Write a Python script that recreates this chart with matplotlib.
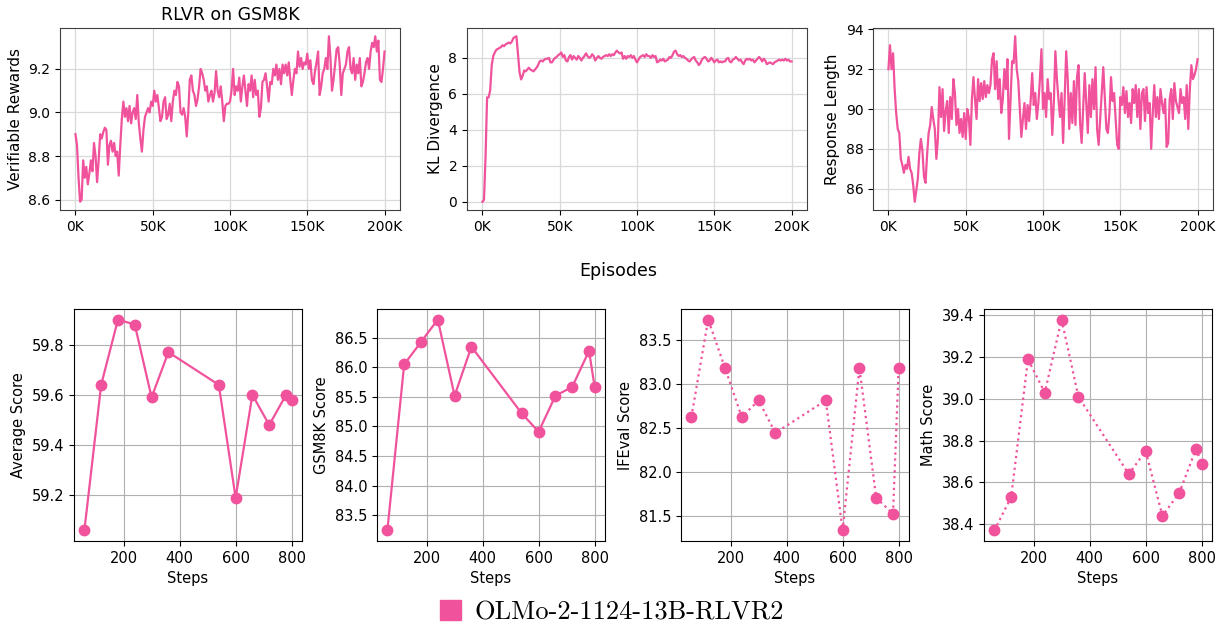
import matplotlib
matplotlib.use("Agg")
import matplotlib.pyplot as plt
from matplotlib.patches import Patch
from matplotlib.ticker import FuncFormatter, MultipleLocator
import numpy as np

# Colour of the single model
PINK = "#F0529C"
MODEL = "OLMo-2-1124-13B-RLVR2"

# Top row: training curves, one value per 1K episodes (0K .. 200K)
episodes = np.arange(0, 201) * 1000

rewards = [
    8.90, 8.85, 8.70, 8.59, 8.60, 8.78, 8.70, 8.75, 8.67, 8.72,
    8.78, 8.73, 8.86, 8.80, 8.68, 8.78, 8.90, 8.88, 8.91, 8.93,
    8.92, 8.76, 8.85, 8.87, 8.82, 8.86, 8.80, 8.82, 8.71, 8.85,
    8.97, 9.05, 8.98, 9.02, 8.96, 9.03, 8.95, 9.00, 9.02, 8.97,
    9.08, 8.95, 8.88, 8.82, 8.92, 8.98, 9.00, 9.02, 9.00, 9.05,
    9.03, 9.10, 9.05, 9.08, 9.02, 8.96, 8.98, 9.05, 9.07, 8.97,
    8.99, 9.04, 8.96, 9.05, 9.10, 9.08, 9.14, 9.12, 9.00, 8.99,
    9.02, 8.98, 8.89, 9.00, 9.15, 9.17, 9.10, 9.08, 9.03, 9.06,
    9.12, 9.20, 9.18, 9.15, 9.10, 9.12, 9.05, 9.08, 9.10, 9.05,
    9.09, 9.19, 9.10, 9.07, 9.12, 9.05, 8.96, 9.03, 9.04, 9.04,
    9.05, 9.10, 9.20, 9.08, 9.12, 9.10, 9.16, 9.05, 9.12, 9.17,
    9.10, 9.03, 9.13, 9.10, 9.17, 9.07, 9.15, 9.08, 9.10, 8.98,
    9.02, 9.14, 9.15, 9.18, 9.12, 9.05, 9.14, 9.13, 9.20, 9.17,
    9.22, 9.15, 9.20, 9.13, 9.22, 9.18, 9.22, 9.17, 9.23, 9.15,
    9.08, 9.15, 9.20, 9.18, 9.28, 9.21, 9.25, 9.20, 9.23, 9.22,
    9.27, 9.20, 9.24, 9.15, 9.13, 9.19, 9.23, 9.28, 9.08, 9.12,
    9.18, 9.20, 9.25, 9.20, 9.35, 9.25, 9.10, 9.15, 9.22, 9.29,
    9.30, 9.22, 9.08, 9.18, 9.20, 9.22, 9.28, 9.30, 9.20, 9.18,
    9.25, 9.15, 9.22, 9.18, 9.25, 9.12, 9.14, 9.18, 9.23, 9.25,
    9.20, 9.28, 9.32, 9.30, 9.35, 9.28, 9.33, 9.15, 9.14, 9.20,
    9.28,
]

kl_div = [
    0.00, 0.10, 2.50, 5.80, 5.80, 6.20, 7.60, 8.10, 8.30, 8.45,
    8.50, 8.55, 8.60, 8.70, 8.65, 8.75, 8.80, 8.85, 8.80, 8.90,
    9.10, 9.15, 9.20, 8.20, 7.20, 6.80, 7.00, 7.30, 7.25, 7.35,
    7.45, 7.35, 7.30, 7.25, 7.35, 7.45, 7.60, 7.80, 7.85, 7.80,
    7.90, 7.95, 7.95, 8.00, 7.75, 7.75, 7.90, 8.00, 8.05, 8.15,
    8.20, 8.30, 8.05, 8.15, 7.85, 7.80, 8.05, 8.15, 7.90, 8.10,
    8.00, 7.90, 8.10, 8.00, 7.85, 8.00, 8.10, 8.25, 8.10, 8.00,
    8.05, 8.20, 8.10, 7.85, 8.00, 8.10, 8.00, 7.95, 8.05, 8.10,
    8.15, 8.10, 8.20, 8.10, 8.20, 8.15, 8.30, 8.40, 8.30, 8.25,
    8.30, 7.95, 8.10, 7.95, 8.10, 8.05, 8.15, 8.00, 8.10, 7.90,
    7.75, 7.90, 8.05, 8.10, 8.15, 8.05, 8.20, 8.10, 8.10, 8.00,
    8.15, 8.05, 8.10, 7.75, 7.80, 7.90, 7.85, 7.95, 7.80, 7.85,
    7.90, 8.05, 8.00, 8.15, 8.35, 8.40, 8.20, 8.10, 8.15, 8.05,
    8.10, 8.00, 7.95, 7.85, 7.80, 7.90, 8.00, 8.05, 7.85, 7.75,
    7.60, 7.70, 7.90, 8.00, 8.05, 7.95, 7.80, 7.85, 8.00, 7.90,
    7.75, 7.85, 7.90, 7.75, 7.80, 7.75, 7.80, 7.80, 7.95, 8.00,
    7.80, 7.75, 7.90, 7.95, 8.05, 7.95, 7.85, 7.90, 7.75, 7.65,
    7.85, 7.95, 7.90, 7.95, 7.85, 7.90, 7.75, 7.85, 7.95, 8.05,
    7.95, 7.80, 7.95, 7.85, 7.65, 7.70, 7.75, 7.70, 7.65, 7.75,
    7.80, 7.85, 7.90, 7.85, 7.90, 7.85, 7.95, 7.85, 7.90, 7.80,
    7.80,
]

resp_len = [
    92.0, 93.2, 92.0, 92.8, 91.0, 89.8, 89.0, 88.8, 87.5, 87.2,
    86.8, 87.2, 87.0, 87.6, 87.0, 86.8, 86.2, 85.35, 85.9, 86.5,
    87.8, 88.5, 87.9, 86.6, 86.3, 87.7, 88.8, 89.2, 90.1, 89.5,
    89.0, 87.5, 88.5, 91.1, 89.6, 91.0, 88.9, 89.9, 90.4, 88.8,
    90.6, 89.5, 91.5, 90.8, 89.2, 90.0, 88.8, 89.5, 88.6, 89.8,
    88.5, 90.0, 89.6, 88.2, 90.5, 91.6, 90.5, 89.5, 91.5, 90.4,
    91.3, 90.5, 91.4, 90.6, 91.2, 90.8, 91.2, 92.5, 92.8, 91.0,
    92.4, 90.5, 91.5, 89.8, 90.5, 92.0, 91.0, 92.5, 88.5, 90.5,
    92.4, 92.3, 93.65, 92.0, 91.4, 90.0, 88.6, 89.5, 90.3, 89.0,
    90.2, 89.4, 90.4, 91.8, 90.2, 90.8, 89.5, 90.3, 91.5, 93.0,
    90.0, 90.8, 89.6, 91.5, 90.5, 90.8, 88.7, 90.3, 92.9, 91.5,
    90.5, 89.6, 90.8, 88.3, 90.5, 92.9, 91.5, 89.0, 90.8, 89.3,
    91.4, 89.2, 91.6, 92.2, 89.3, 88.3, 90.0, 91.8, 90.3, 88.8,
    91.2, 89.6, 91.5, 90.0, 92.1, 89.0, 88.2, 89.5, 90.8, 92.1,
    90.5, 89.0, 88.8, 89.8, 91.6, 90.4, 90.8, 89.5, 88.2, 88.0,
    90.6, 90.2, 91.1, 89.8, 90.9, 89.6, 90.3, 89.3, 91.0, 90.3,
    91.2, 89.6, 91.0, 89.0, 90.8, 91.0, 89.4, 91.1, 89.8, 90.3,
    88.0, 89.8, 91.2, 89.6, 90.6, 89.5, 91.0, 90.3, 89.8, 90.5,
    88.1, 88.3, 90.5, 91.0, 89.5, 91.3, 90.4, 90.1, 89.8, 91.0,
    90.3, 90.6, 89.5, 91.2, 89.0, 91.0, 92.2, 91.5, 91.7, 92.0,
    92.5,
]

# Bottom row: evaluation scores per checkpoint step
steps = [60, 120, 180, 240, 300, 360, 540, 600, 660, 720, 780, 800]
avg_score = [59.06, 59.64, 59.90, 59.88, 59.59, 59.77, 59.64, 59.19, 59.60, 59.48, 59.60, 59.58]
gsm8k_score = [83.24, 86.05, 86.43, 86.81, 85.52, 86.35, 85.22, 84.91, 85.52, 85.67, 86.28, 85.67]
ifeval_score = [82.62, 83.73, 83.18, 82.62, 82.81, 82.44, 82.81, 81.33, 83.18, 81.70, 81.52, 83.18]
math_score = [38.37, 38.53, 39.19, 39.03, 39.38, 39.01, 38.64, 38.75, 38.44, 38.55, 38.76, 38.69]

fig = plt.figure(figsize=(12.28, 6.3), dpi=100)

# --- top row ---
top_lefts = [60, 467, 873]
top_series = [rewards, kl_div, resp_len]
top_labels = ["Verifiable Rewards", "KL Divergence", "Response Length"]
kfmt = FuncFormatter(lambda v, p: f"{int(round(v / 1000))}K")

top_axes = []
for left, ys, lab in zip(top_lefts, top_series, top_labels):
    ax = fig.add_axes([left / 1228, 420 / 630, 340 / 1228, 182 / 630])
    ax.plot(episodes, ys, color=PINK, linewidth=1.6)
    ax.set_ylabel(lab, fontsize=11)
    ax.xaxis.set_major_formatter(kfmt)
    ax.set_xticks([0, 50000, 100000, 150000, 200000])
    ax.grid(True, color="#d9d9d9", linewidth=0.9)
    ax.set_axisbelow(True)
    for s in ax.spines.values():
        s.set_color("#404040")
    ax.tick_params(labelsize=10)
    top_axes.append(ax)

top_axes[0].set_title("RLVR on GSM8K", fontsize=12.5)
fig.text(618 / 1228, 1 - 271 / 630, "Episodes", ha="center", va="center", fontsize=12.5)

# --- bottom row ---
bot_lefts = [74, 377, 681, 984]
bot_series = [avg_score, gsm8k_score, ifeval_score, math_score]
bot_labels = ["Average Score", "GSM8K Score", "IFEval Score", "Math Score"]
bot_styles = ["-", "-", ":", ":"]
bot_ystep = [0.2, 0.5, 0.5, 0.2]

for left, ys, lab, ls, st in zip(bot_lefts, bot_series, bot_labels, bot_styles, bot_ystep):
    ax = fig.add_axes([left / 1228, 89 / 630, 228 / 1228, 232 / 630])
    ax.plot(steps, ys, color=PINK, linestyle=ls, linewidth=1.6,
            marker="o", markersize=7.5)
    ax.set_ylabel(lab, fontsize=10.5)
    ax.set_xlabel("Steps", fontsize=10.5)
    ax.set_xticks([200, 400, 600, 800])
    ax.yaxis.set_major_locator(MultipleLocator(st))
    ax.grid(True, color="#b0b0b0", linewidth=0.8)
    ax.set_axisbelow(True)
    ax.tick_params(labelsize=10.5)

# shared legend at the bottom
handle = Patch(facecolor=PINK, edgecolor=PINK)
fig.legend([handle], [MODEL], loc="center", bbox_to_anchor=(612 / 1228, 1 - 612 / 630),
           frameon=False, prop={"family": "cmr10", "size": 19},
           handlelength=0.8, handleheight=0.8, handletextpad=0.5)

fig.savefig("out.png", dpi=100)
